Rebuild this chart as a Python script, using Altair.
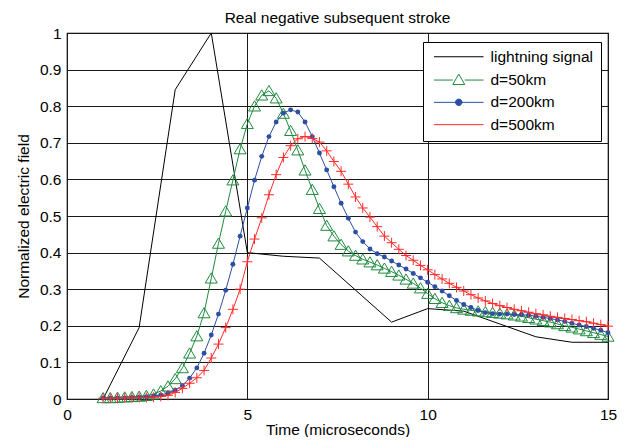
import altair as alt
import pandas as pd

FONT = "Liberation Sans"

# sample times (microseconds) of the simulated curves
TIME = [1.0, 1.2, 1.4, 1.6, 1.8, 2.0, 2.2, 2.4, 2.6, 2.8,
        3.0, 3.2, 3.4, 3.6, 3.8, 4.0, 4.2, 4.4, 4.6, 4.8,
        5.0, 5.2, 5.4, 5.6, 5.8, 6.0, 6.2, 6.4, 6.6, 6.8,
        7.0, 7.2, 7.4, 7.6, 7.8, 8.0, 8.2, 8.4, 8.6, 8.8,
        9.0, 9.2, 9.4, 9.6, 9.8, 10.0, 10.2, 10.4, 10.6, 10.8,
        11.0, 11.2, 11.4, 11.6, 11.8, 12.0, 12.2, 12.4, 12.6, 12.8,
        13.0, 13.2, 13.4, 13.6, 13.8, 14.0, 14.2, 14.4, 14.6, 14.8,
        15.0]

D50 = [0.003, 0.003, 0.004, 0.005, 0.006, 0.007, 0.009, 0.013, 0.022, 0.035,
       0.055, 0.085, 0.125, 0.172, 0.235, 0.330, 0.425, 0.513, 0.598, 0.683,
       0.752, 0.800, 0.830, 0.842, 0.822, 0.780, 0.733, 0.680, 0.625, 0.572,
       0.520, 0.474, 0.445, 0.422, 0.404, 0.392, 0.382, 0.374, 0.366, 0.357,
       0.348, 0.338, 0.327, 0.316, 0.303, 0.288, 0.274, 0.263, 0.255, 0.249,
       0.245, 0.242, 0.240, 0.238, 0.236, 0.234, 0.232, 0.229, 0.226, 0.222,
       0.218, 0.214, 0.210, 0.205, 0.200, 0.196, 0.191, 0.186, 0.181, 0.176,
       0.171]

D200 = [0.002, 0.002, 0.003, 0.003, 0.004, 0.005, 0.006, 0.008, 0.011, 0.016,
        0.024, 0.037, 0.057, 0.085, 0.125, 0.175, 0.232, 0.297, 0.368, 0.445,
        0.522, 0.598, 0.663, 0.717, 0.757, 0.781, 0.790, 0.784, 0.757, 0.717,
        0.672, 0.626, 0.580, 0.535, 0.494, 0.456, 0.430, 0.410, 0.397, 0.388,
        0.377, 0.366, 0.355, 0.343, 0.331, 0.319, 0.307, 0.295, 0.282, 0.269,
        0.258, 0.250, 0.242, 0.236, 0.233, 0.232, 0.232, 0.231, 0.230, 0.229,
        0.226, 0.223, 0.220, 0.216, 0.212, 0.207, 0.202, 0.198, 0.193, 0.188,
        0.181]

D500 = [0.002, 0.002, 0.002, 0.003, 0.003, 0.004, 0.004, 0.005, 0.007, 0.010,
        0.018, 0.029, 0.043, 0.058, 0.078, 0.112, 0.150, 0.195, 0.245, 0.300,
        0.375, 0.437, 0.495, 0.558, 0.613, 0.660, 0.692, 0.711, 0.717, 0.712,
        0.702, 0.678, 0.649, 0.622, 0.587, 0.552, 0.522, 0.497, 0.471, 0.445,
        0.427, 0.409, 0.392, 0.379, 0.365, 0.353, 0.340, 0.328, 0.316, 0.305,
        0.295, 0.285, 0.276, 0.268, 0.261, 0.255, 0.250, 0.245, 0.241, 0.237,
        0.233, 0.230, 0.226, 0.223, 0.220, 0.217, 0.214, 0.211, 0.207, 0.203,
        0.199]

LIGHT_T = [1, 2, 3, 4, 5, 6, 7, 9, 10, 11, 12, 13, 14, 15]
LIGHT_V = [0.0, 0.195, 0.845, 1.0, 0.40, 0.39, 0.385, 0.21, 0.247, 0.24,
           0.205, 0.17, 0.155, 0.155]

SERIES = ["lightning signal", "d=50km", "d=200km", "d=500km"]
COLORS = ["#000000", "#1f8a3e", "#2c4fa3", "#ff2a2a"]

X_TICKS = [0, 5, 10, 15]
Y_TICKS = [0, 0.1, 0.2, 0.3, 0.4, 0.5, 0.6, 0.7, 0.8, 0.9, 1.0]

TRI = "M-1,0.8L0,-0.9L1,0.8Z"
PLUS = "M-1,0H1M0,-1V1"

# legend symbols: line segment with the series marker (unit r = 5px)
LEG_SHAPES = [
    "M-4.96,0H4.96",
    "M-4.96,0H-1.2M1.2,0H4.96M-1.2,0.9L0,-1.2L1.2,0.9Z",
    "M-4.96,0H4.96M0.65,0A0.65,0.65,0,1,1,-0.65,0A0.65,0.65,0,1,1,0.65,0Z",
    "M-4.96,0H4.96",
]
LEG_FILLS = ["transparent", "transparent", COLORS[2], "transparent"]

df_light = pd.DataFrame({"t": LIGHT_T, "v": LIGHT_V})
df_50 = pd.DataFrame({"t": TIME, "v": D50})
df_200 = pd.DataFrame({"t": TIME, "v": D200})
df_500 = pd.DataFrame({"t": TIME, "v": D500})
df_leg = pd.DataFrame({"series": SERIES, "t": [-10] * 4, "v": [-10] * 4})

X = alt.X("t:Q", scale=alt.Scale(domain=[0, 15], nice=False, zero=False),
          axis=alt.Axis(values=X_TICKS, title="Time (microseconds)",
                        labelBaseline="alphabetic", labelPadding=20, labelFlush=False,
                        titleY=35, titleBaseline="alphabetic"))
Y = alt.Y("v:Q", scale=alt.Scale(domain=[0, 1], nice=False, zero=False),
          axis=alt.Axis(values=Y_TICKS, format="~g", title="Normalized electric field",
                        labelPadding=6, labelBaseline="middle", labelFlush=False,
                        titleX=-39, titleBaseline="alphabetic"))

light = alt.Chart(df_light).mark_line(color=COLORS[0], strokeWidth=1).encode(x=X, y=Y)

g_line = alt.Chart(df_50).mark_line(color=COLORS[1], strokeWidth=1).encode(x=X, y=Y)
g_pts = alt.Chart(df_50).mark_point(shape=TRI, size=144, filled=False, strokeWidth=1,
                                     color=COLORS[1], opacity=1).encode(x=X, y=Y)

b_line = alt.Chart(df_200).mark_line(color=COLORS[2], strokeWidth=1).encode(x=X, y=Y)
b_pts = alt.Chart(df_200).mark_point(shape="circle", size=24, filled=True,
                                      color=COLORS[2], opacity=1).encode(x=X, y=Y)

r_line = alt.Chart(df_500).mark_line(color=COLORS[3], strokeWidth=1).encode(x=X, y=Y)
r_pts = alt.Chart(df_500).mark_point(shape=PLUS, size=100, filled=False, strokeWidth=1,
                                      color=COLORS[3], opacity=1).encode(x=X, y=Y)

leg = alt.Chart(df_leg).mark_point(clip=True, strokeWidth=1, opacity=1).encode(
    x=X, y=Y,
    shape=alt.Shape("series:N", scale=alt.Scale(domain=SERIES, range=LEG_SHAPES),
                    legend=alt.Legend(title=None)),
    stroke=alt.Stroke("series:N", scale=alt.Scale(domain=SERIES, range=COLORS),
                      legend=alt.Legend(title=None)),
    fill=alt.Fill("series:N", scale=alt.Scale(domain=SERIES, range=LEG_FILLS),
                  legend=alt.Legend(title=None)),
)

chart = alt.layer(light, g_line, g_pts, b_line, b_pts, r_line, r_pts, leg).properties(
    width=541, height=366,
    autosize="none",
    padding={"left": 59, "top": 25, "right": 11, "bottom": 38},
    title=alt.TitleParams("Real negative subsequent  stroke", font=FONT, fontSize=15.5,
                          fontWeight="normal", color="#000", anchor="middle",
                          frame="group", baseline="alphabetic", offset=0, dy=12.5),
).configure_view(
    stroke="#000", strokeWidth=1.2
).configure_axis(
    grid=True, gridColor="#1a1a1a", gridOpacity=1, gridWidth=1,
    ticks=False, tickSize=0, domain=False,
    labelFont=FONT, labelFontSize=15.5, labelColor="#000",
    titleFont=FONT, titleFontSize=15.5, titleFontWeight="normal", titleColor="#000",
).configure_legend(
    orient="none", legendX=356, legendY=9, padding=7,
    fillColor="white", strokeColor="black", strokeWidth=1, cornerRadius=0,
    labelFont=FONT, labelFontSize=15.5, labelColor="#000",
    symbolSize=100, symbolStrokeWidth=1, symbolOffset=21, labelOffset=24,
    rowPadding=5.3,
)

chart.save("out.html", embed_options={"renderer": "svg", "actions": False})
